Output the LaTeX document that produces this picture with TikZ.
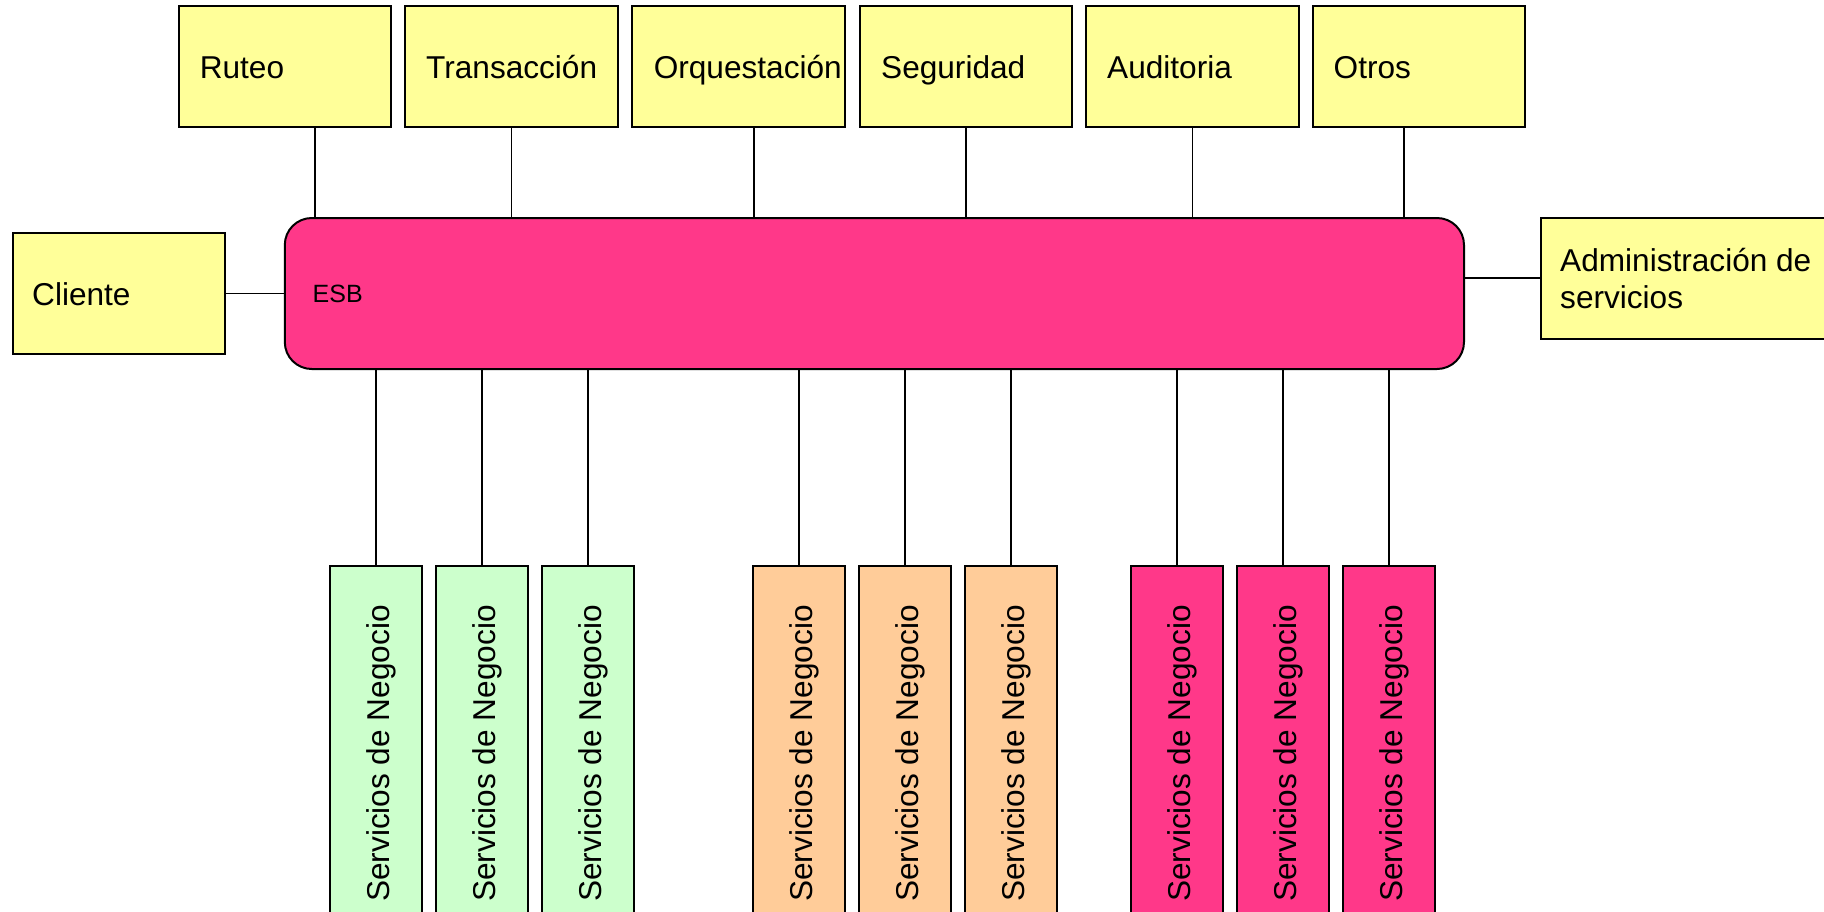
\documentclass[tikz,border=0pt]{standalone}
\usepackage{fontspec}
\setmainfont{Liberation Sans}
\definecolor{yel}{HTML}{FFFF99}
\definecolor{grn}{HTML}{CCFFCC}
\definecolor{org}{HTML}{FFCC99}
\definecolor{pnk}{RGB}{255,56,137}
\begin{document}
\begin{tikzpicture}[x=1pt,y=-1pt,
  box/.style={draw=black, line width=2pt, rectangle, inner sep=0pt},
  ybox/.style={box, fill=yel, minimum width=212.5pt, minimum height=121pt},
  sbox/.style={box, minimum width=91.5pt, minimum height=420pt, anchor=north},
  txt/.style={inner sep=0pt, font=\fontsize{31.6}{36.3}\selectfont, anchor=base west},
  vtxt/.style={inner sep=0pt, font=\fontsize{31.6}{36.3}\selectfont, rotate=90, anchor=base},
  conn/.style={line width=1.5pt, draw=black}]
\useasboundingbox (0,0) rectangle (1824,911);
\clip (0,0) rectangle (1824,911);

% ESB bus
\node[box, fill=pnk, rounded corners=27pt, minimum width=1179.2pt, minimum height=151pt] (esb) at (874.4,293.5) {};
\node[inner sep=0pt, font=\fontsize{25}{30}\selectfont, anchor=base west] (esbt) at (312.5,302) {ESB};

% top boxes
\node[ybox] (ruteo) at (284.85,66.5) {};
\node[ybox] (trans) at (511.25,66.5) {};
\node[ybox] (orq)   at (738.25,66.5) {};
\node[ybox] (seg)   at (965.75,66.5) {};
\node[ybox] (aud)   at (1192.25,66.5) {};
\node[ybox] (otros) at (1418.75,66.5) {};
\node[txt] (truteo) at (199.6,78.5) {Ruteo};
\node[txt] (ttrans) at (426,78.5) {Transacción};
\node[txt] (torq)   at (653.6,78.5) {Orquestación};
\node[txt] (tseg)   at (881,78.5) {Seguridad};
\node[txt] (taud)   at (1107,78.5) {Auditoria};
\node[txt] (totros) at (1333.5,78.5) {Otros};

% side boxes
\node[ybox, minimum width=212pt, minimum height=121.3pt] (cliente) at (118.5,293.4) {};
\node[txt] (tcliente) at (32,305) {Cliente};
\node[box, fill=yel, minimum width=320pt, minimum height=121pt, anchor=west] (admin) at (1540,278) {};
\node[txt] (tadm1) at (1560,271.7) {Administración de};
\node[txt] (tadm2) at (1560,308) {servicios};

% bottom service boxes
\foreach \n/\l/\c in {s1/330/grn, s2/436/grn, s3/542/grn, s4/753/org, s5/859/org, s6/965/org, s7/1131/pnk, s8/1237/pnk, s9/1343/pnk}{
  \node[sbox, fill=\c] (\n) at (\l+45.75,565) {};
  \node[vtxt] (t\n) at (\l+59,753.5) {Servicios de Negocio};
  \draw[conn] (\n.north) -- (\n.north |- esb.south);
}

% top connectors
\draw[conn] ([xshift=30.1pt]ruteo.south) -- ([xshift=30.1pt]ruteo.south |- esb.north);
\draw[conn] (trans.south) -- (trans.south |- esb.north);
\draw[conn] ([xshift=15.5pt]orq.south) -- ([xshift=15.5pt]orq.south |- esb.north);
\draw[conn] (seg.south) -- (seg.south |- esb.north);
\draw[conn] (aud.south) -- (aud.south |- esb.north);
\draw[conn] ([xshift=-14.75pt]otros.south) -- ([xshift=-14.75pt]otros.south |- esb.north);

% side connectors
\draw[conn] (cliente.east) -- (cliente.east -| esb.west);
\draw[conn] (admin.west) -- (admin.west -| esb.east);
\end{tikzpicture}
\end{document}
